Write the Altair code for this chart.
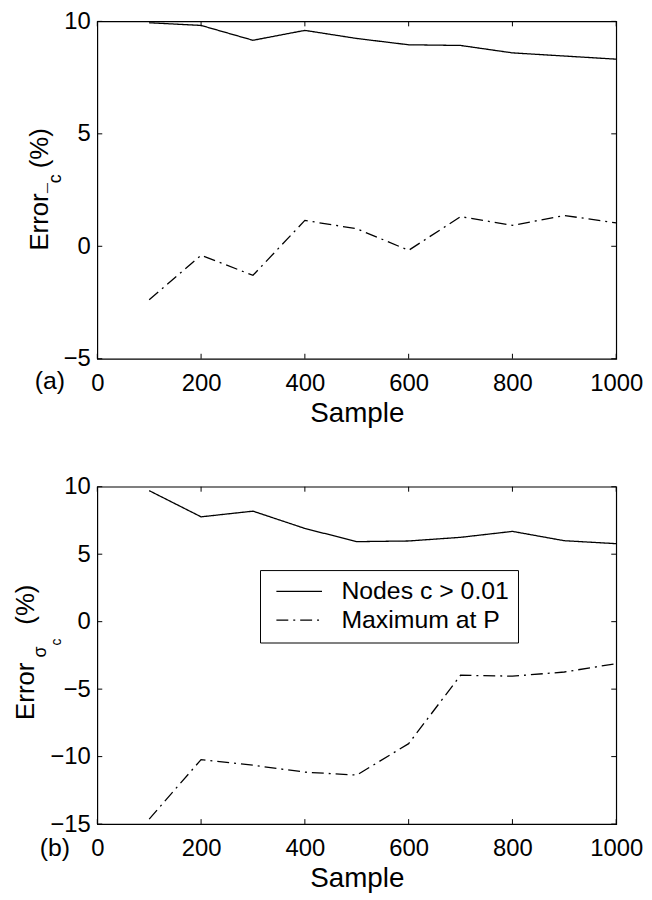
import altair as alt
import pandas as pd

# ---- data ----
samples = [100, 200, 300, 400, 500, 600, 700, 800, 900, 1000]
top_nodes = [9.94, 9.82, 9.16, 9.60, 9.24, 8.96, 8.93, 8.60, 8.46, 8.32]
top_max = [-2.38, -0.40, -1.29, 1.15, 0.78, -0.18, 1.32, 0.93, 1.37, 1.04]
bot_nodes = [9.71, 7.77, 8.19, 6.91, 5.93, 5.98, 6.25, 6.69, 6.00, 5.78]
bot_max = [-14.63, -10.22, -10.64, -11.15, -11.37, -9.04, -3.97, -4.04, -3.73, -3.11]
x_ticks = [0, 200, 400, 600, 800, 1000]
top_y_ticks = [-5, 0, 5, 10]
bot_y_ticks = [-15, -10, -5, 0, 5, 10]
series_names = ["Nodes c > 0.01", "Maximum at P"]

W, H = 523, 340
FONT = "Liberation Sans"


def long_df(a, b):
    return pd.DataFrame({
        "Sample": samples + samples,
        "Error": a + b,
        "Series": [series_names[0]] * len(a) + [series_names[1]] * len(b),
    })


def txt(text, x, y, size, angle=270, align="left", baseline="alphabetic"):
    return alt.Chart(pd.DataFrame({"t": [text]})).mark_text(
        angle=angle, align=align, baseline=baseline, fontSize=size,
        font=FONT, color="black"
    ).encode(text="t:N", x=alt.value(x), y=alt.value(y))


def panel(a, b, ydom, yticks, show_legend, title_layers, label_layer):
    xs = alt.Scale(domain=[0, 1000], nice=False, zero=False)
    ys = alt.Scale(domain=ydom, nice=False, zero=False)
    xax = alt.Axis(values=x_ticks, format="d", title="Sample", titleFontSize=28,
                   titleFontWeight="normal", titleFont=FONT, titlePadding=4,
                   labelFontSize=24, labelFont=FONT, labelPadding=13,
                   labelFlush=False, labelOverlap=False, ticks=False,
                   domain=False, grid=False, labelColor="black", titleColor="black")
    yax = alt.Axis(values=yticks, format="d", title="", labelFontSize=24,
                   labelFont=FONT, labelPadding=7, labelOverlap=False, ticks=False,
                   domain=False, grid=False, labelColor="black")
    sd_scale = alt.Scale(domain=series_names, range=[[1, 0], [12, 5, 2, 5]])
    if show_legend:
        sd = alt.StrokeDash(
            "Series:N", scale=sd_scale,
            legend=alt.Legend(title=None, orient="none", legendX=164, legendY=84,
                              direction="vertical", symbolType="M-2,0H2",
                              symbolSize=529, symbolStrokeWidth=1.2,
                              symbolStrokeColor="black", labelFontSize=25,
                              labelFont=FONT, labelColor="black", labelOffset=30,
                              rowPadding=3, padding=9, strokeColor="black",
                              fillColor="white", symbolOffset=18, labelLimit=400))
    else:
        sd = alt.StrokeDash("Series:N", scale=sd_scale, legend=None)
    lines = alt.Chart(long_df(a, b)).mark_line(color="black", strokeWidth=1.3).encode(
        x=alt.X("Sample:Q", scale=xs, axis=xax),
        y=alt.Y("Error:Q", scale=ys, axis=yax),
        strokeDash=sd,
    )
    xt = pd.DataFrame({"Sample": x_ticks})
    yt = pd.DataFrame({"Error": yticks})
    rule = dict(color="black", strokeWidth=1)
    tb = alt.Chart(xt).mark_rule(**rule).encode(
        x=alt.X("Sample:Q", scale=xs, axis=xax), y=alt.value(H), y2=alt.value(H - 5))
    tt = alt.Chart(xt).mark_rule(**rule).encode(
        x=alt.X("Sample:Q", scale=xs, axis=xax), y=alt.value(0), y2=alt.value(5))
    tl = alt.Chart(yt).mark_rule(**rule).encode(
        y=alt.Y("Error:Q", scale=ys, axis=yax), x=alt.value(0), x2=alt.value(5))
    tr = alt.Chart(yt).mark_rule(**rule).encode(
        y=alt.Y("Error:Q", scale=ys, axis=yax), x=alt.value(W), x2=alt.value(W - 5))
    return alt.layer(lines, tb, tt, tl, tr, *title_layers, label_layer).properties(
        width=W, height=H)


top_titles = [
    txt("Error", -50, 231, 26),
    txt("\u00afc", -37, 173, 18),
    txt("(%)", -50, 148, 26),
]
bot_titles = [
    txt("Error", -64, 235, 26),
    txt("\u03c3", -52, 172, 18),
    txt("c", -37, 160, 14),
    txt("(%)", -64, 139, 26),
]

top = panel(top_nodes, top_max, [-5, 10], top_y_ticks, False, top_titles,
            txt("(a)", -63, 371, 25, angle=0))
bottom = panel(bot_nodes, bot_max, [-15, 10], bot_y_ticks, True, bot_titles,
               txt("(b)", -58, 372, 25, angle=0))

chart = alt.vconcat(top, bottom, spacing=46).resolve_scale(
    strokeDash="independent"
).resolve_legend(
    strokeDash="independent"
).properties(
    padding={"left": 4, "top": -3, "right": 0, "bottom": 0}
).configure(
    font=FONT,
    view=alt.ViewConfig(stroke="black", strokeWidth=1.2),
)

chart.save("out.html", embed_options={"renderer": "svg", "actions": False})
